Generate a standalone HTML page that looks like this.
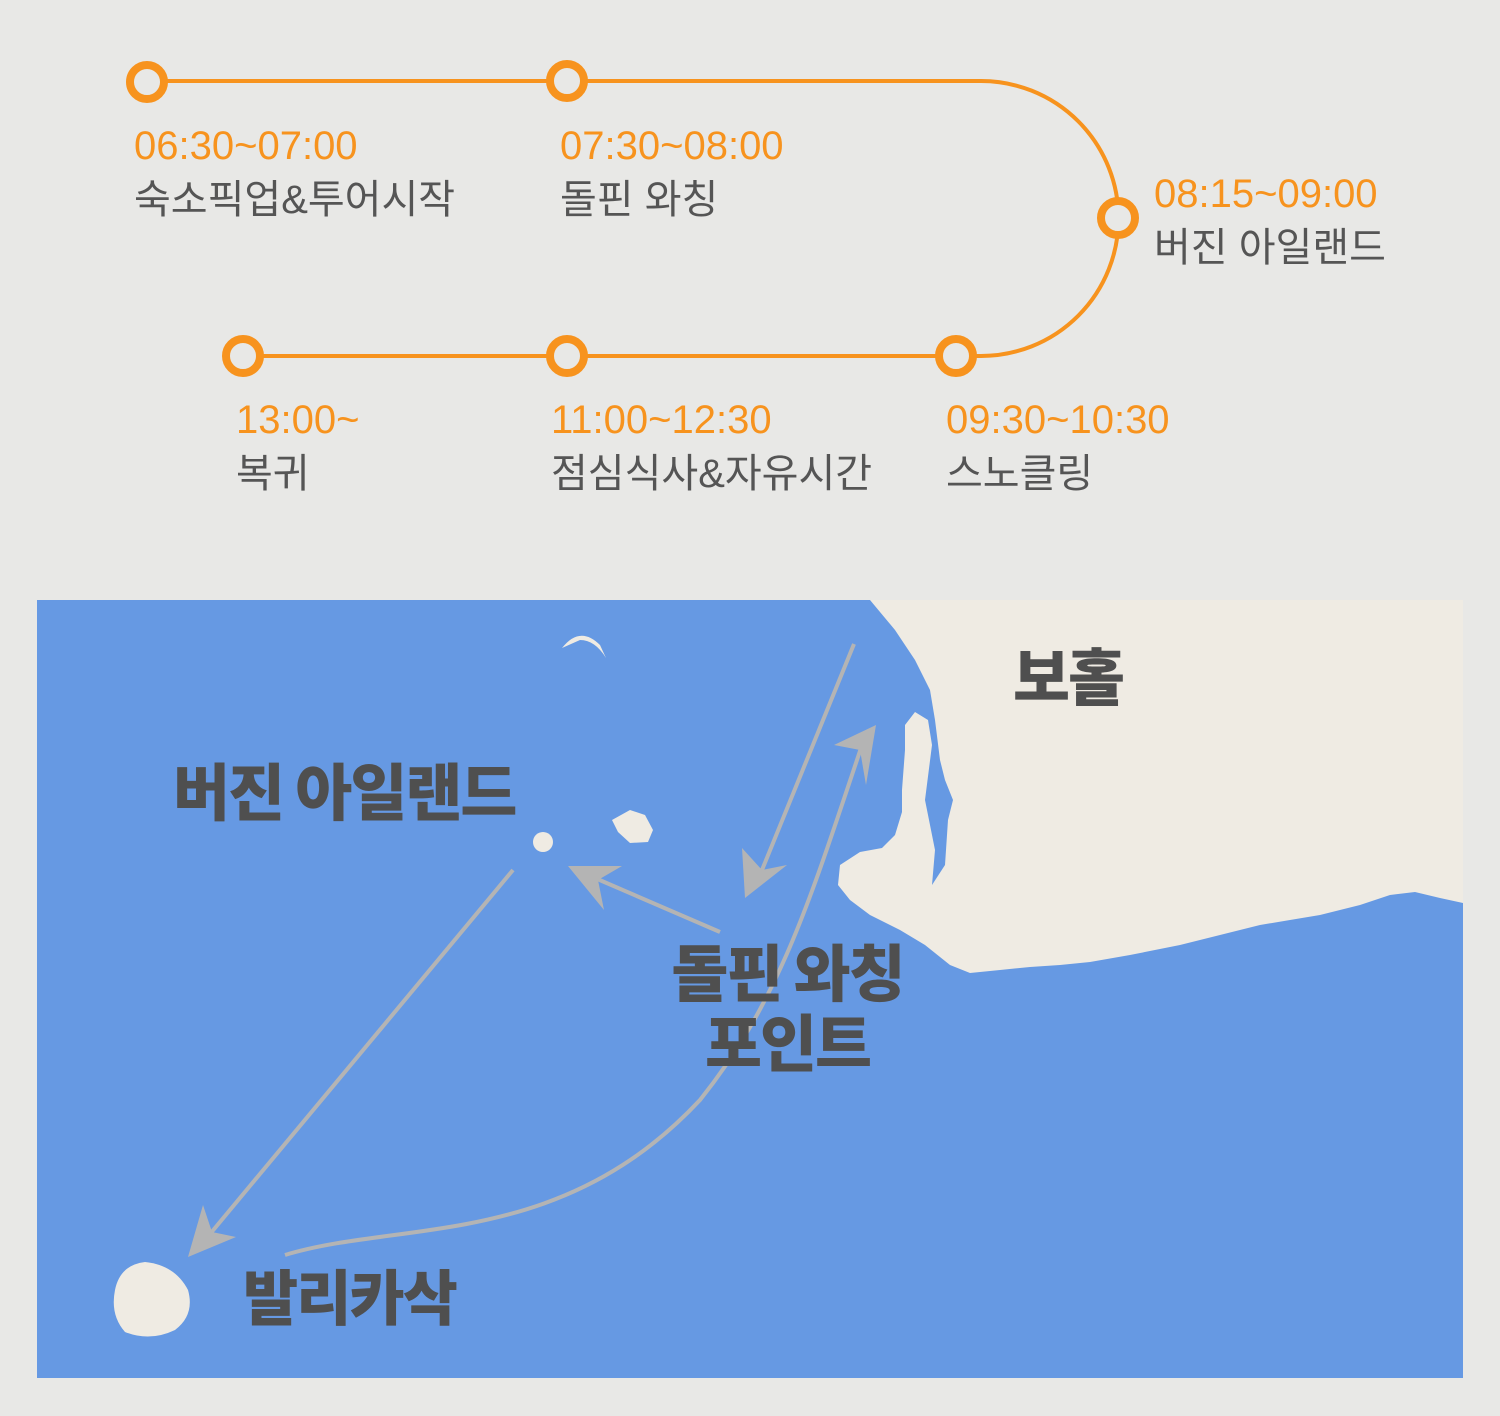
<!DOCTYPE html>
<html><head><meta charset="utf-8"><style>
body{margin:0;width:1500px;height:1416px;background:#e8e8e6;overflow:hidden;position:relative;font-family:"Liberation Sans","Noto Sans CJK KR",sans-serif}
.t{position:absolute;color:#f7931e;font-size:40px;line-height:1;white-space:nowrap}
.k{position:absolute;color:#555;font-size:40px;line-height:1;white-space:nowrap;font-family:"Liberation Sans","Noto Sans CJK KR",sans-serif}
.m{position:absolute;color:#4f4f4f;font-weight:900;font-family:"Noto Sans CJK KR",sans-serif;line-height:1;white-space:nowrap;letter-spacing:-2px}
</style></head><body>
<svg width="1500" height="1416" style="position:absolute;left:0;top:0">
<g fill="none" stroke="#f7931e">
<path d="M147 81 H981 A137 137 0 0 1 981 356 H243" stroke-width="4"/>
<g stroke-width="8" fill="#e8e8e6">
<circle cx="147" cy="82" r="17"/><circle cx="567" cy="81" r="17"/><circle cx="1118" cy="218" r="17"/>
<circle cx="243" cy="356" r="17"/><circle cx="567" cy="356" r="17"/><circle cx="956" cy="356" r="17"/>
</g></g>
<rect x="37" y="600" width="1426" height="778" fill="#6699e3"/>
<path d="M870 600 H1463 V903 L1440 898 1415 892 1390 895 1360 905 1320 915 1290 920 1260 925 1220 935 1180 945 1130 955 1090 962 1060 965 1030 967 1000 970 970 973 950 965 925 945 900 930 870 915 850 900 838 885 840 865 860 852 882 848 895 835 902 812 902 790 905 750 905 725 915 712 928 720 932 745 925 800 935 850 932 885 945 865 948 820 953 800 945 780 940 760 935 720 930 690 915 660 895 630 Z" fill="#efebe3"/>
<path d="M562 648 Q580 625 600 645 L606 658 Q595 640 580 640 Z" fill="#efebe3"/>
<circle cx="543" cy="842" r="10" fill="#efebe3"/>
<path d="M612 820 L630 810 645 815 653 830 648 842 630 843 618 832Z" fill="#efebe3"/>
<path d="M115 1290 Q120 1265 145 1262 Q175 1265 188 1290 Q195 1315 175 1330 Q150 1342 125 1332 Q110 1315 115 1290Z" fill="#efebe3"/>
<g stroke="#b4b4b4" stroke-width="4" fill="none">
<line x1="854" y1="644" x2="762" y2="870"/>
<path d="M285 1255 C400 1220 560 1250 700 1100 C780 1000 810 900 862 745"/>
<line x1="720" y1="932" x2="595" y2="878"/>
<line x1="513" y1="870" x2="205" y2="1240"/>
</g>
<g fill="#b4b4b4">
<polygon points="745,898 742,848 762,870 787,865"/>
<polygon points="876,725 834,745 860,750 866,785"/>
<polygon points="568,866 622,866 598,880 604,910"/>
<polygon points="188,1257 203,1205 212,1232 236,1237"/>
</g>
</svg>
<div class="t" style="left:134px;top:126px">06:30~07:00</div>
<div class="k" style="left:134px;top:180px">숙소픽업&amp;투어시작</div>
<div class="t" style="left:560px;top:126px">07:30~08:00</div>
<div class="k" style="left:560px;top:180px">돌핀 와칭</div>
<div class="t" style="left:1154px;top:174px">08:15~09:00</div>
<div class="k" style="left:1154px;top:228px">버진 아일랜드</div>
<div class="t" style="left:236px;top:400px">13:00~</div>
<div class="k" style="left:236px;top:454px">복귀</div>
<div class="t" style="left:551px;top:400px">11:00~12:30</div>
<div class="k" style="left:551px;top:454px">점심식사&amp;자유시간</div>
<div class="t" style="left:946px;top:400px">09:30~10:30</div>
<div class="k" style="left:946px;top:454px">스노클링</div>
<div class="m" style="left:1013px;top:642px;font-size:62px">보홀</div>
<div class="m" style="left:173px;top:757px;font-size:62px">버진 아일랜드</div>
<div class="m" style="left:640px;top:934px;font-size:62px;text-align:center;width:295px;line-height:70px">돌핀 와칭<br>포인트</div>
<div class="m" style="left:243px;top:1265px;font-size:60px">발리카삭</div>
</body></html>
